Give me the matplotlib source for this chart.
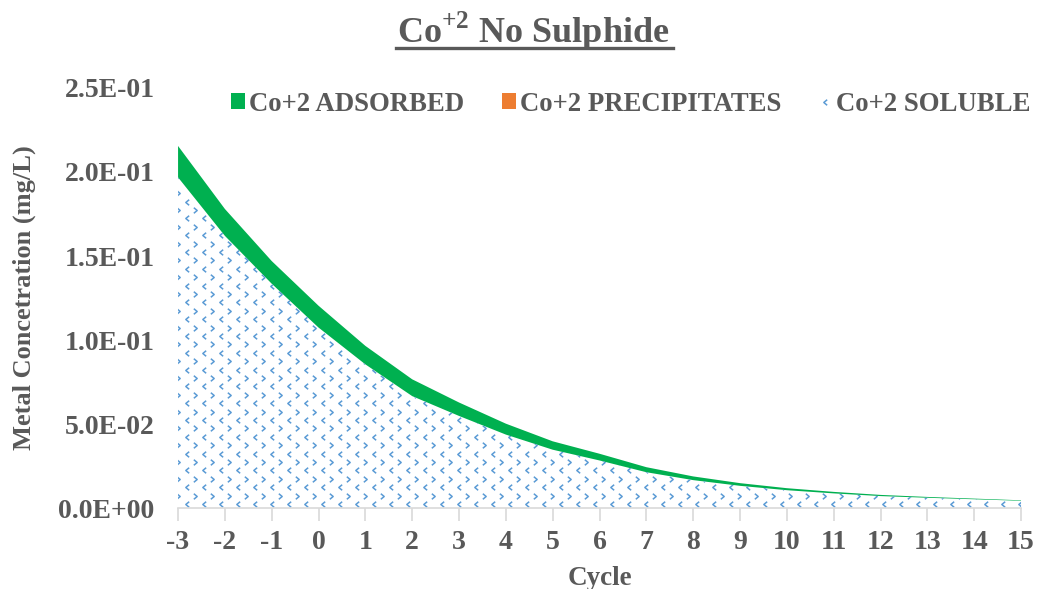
import matplotlib.pyplot as plt
from matplotlib.lines import Line2D
from matplotlib.patches import Patch
from matplotlib.path import Path
from matplotlib.ticker import FuncFormatter
import numpy as np

plt.rcParams['font.family'] = ['Liberation Serif', 'DejaVu Serif']
plt.rcParams['axes.unicode_minus'] = False
plt.rcParams['mathtext.fontset'] = 'custom'
plt.rcParams['mathtext.bf'] = 'Liberation Serif:bold'
plt.rcParams['mathtext.rm'] = 'Liberation Serif:bold'

cycles = list(range(-3, 16))
# total concentration (top of the stack) and soluble part, mg/L
total = [0.2155, 0.178, 0.147, 0.1204, 0.0965, 0.0766, 0.0628, 0.0502, 0.0397,
         0.0323, 0.0243, 0.0188, 0.0148, 0.0118, 0.0096, 0.0078, 0.0066, 0.0056, 0.0046]
soluble = [0.1968, 0.162, 0.1335, 0.1074, 0.0855, 0.0666, 0.0548, 0.0437, 0.0347,
           0.0283, 0.0213, 0.0166, 0.0132, 0.0106, 0.0087, 0.0071, 0.0061, 0.0052, 0.0043]
precipitates = [0.0] * len(cycles)
adsorbed = [t - s for t, s in zip(total, soluble)]

grey = '#595959'
green = '#00B050'
orange = '#ED7D31'
blue = '#5B9BD5'

# little chevrons used as the fill texture of the soluble area
chev_left = Path([(0.6, 1.0), (-0.6, 0.0), (0.6, -1.0)])
chev_right = Path([(-0.6, 1.0), (0.6, 0.0), (-0.6, -1.0)])

W, H = 10.37, 5.89
fig = plt.figure(figsize=(W, H), dpi=100)
ax_rect = [0.1717, 0.1375, 0.8129, 0.7131]
ax = fig.add_axes(ax_rect)

x = np.array(cycles)
sol = np.array(soluble)
prec = sol + np.array(precipitates)
top = prec + np.array(adsorbed)

sol_area = ax.fill_between(x, 0, sol, facecolor='white', linewidth=0)
ax.fill_between(x, sol, prec, facecolor=orange, linewidth=0)
ax.fill_between(x, prec, top, facecolor=green, linewidth=0)

ax.set_xlim(-3, 15)
ax.set_ylim(0, 0.25)

# staggered rows of chevrons, clipped to the soluble area
px_x = W * 100 * ax_rect[2] / 18.0
px_y = H * 100 * ax_rect[3] / 0.25
step_x = 17 / px_x
step_y = 8.4 / px_y
clip = sol_area.get_paths()[0]
k = 0
yy = 4 / px_y
while yy < 0.25:
    off = step_x / 2 if k % 2 == 0 else 0
    xs = np.arange(-3 + off, 15.01, step_x)
    mk = chev_left if k % 2 == 0 else chev_right
    pts, = ax.plot(xs, np.full_like(xs, yy), linestyle='none', marker=mk,
                   markersize=4, markeredgewidth=1.1, markerfacecolor='none',
                   markeredgecolor=blue)
    pts.set_clip_path(clip, ax.transData)
    yy += step_y
    k += 1

ax.set_xticks(cycles)
ax.set_yticks(np.arange(0, 0.2501, 0.05))
ax.yaxis.set_major_formatter(FuncFormatter(lambda v, p: '%.1E' % v))

for side in ['top', 'right', 'left']:
    ax.spines[side].set_visible(False)
ax.spines['bottom'].set_color('#D9D9D9')
ax.spines['bottom'].set_linewidth(1.2)
ax.tick_params(axis='x', colors='#D9D9D9', length=9, width=1.2, pad=7,
               labelcolor=grey, labelsize=20)
ax.tick_params(axis='y', length=0, pad=17, labelcolor=grey, labelsize=20)
for lbl in ax.get_xticklabels() + ax.get_yticklabels():
    lbl.set_fontweight('bold')

ax.set_xlabel('Cycle', fontsize=19.5, fontweight='bold', color=grey, labelpad=7.5)
ax.set_ylabel('Metal Concetration (mg/L)', fontsize=19, fontweight='bold', color=grey, labelpad=16)

fig.text(0.5145, 0.928, r'Co$^{\mathbf{+2}}$ No Sulphide', ha='center', va='baseline',
         fontsize=26, fontweight='bold', color=grey)
# underline below the title
fig.add_artist(Line2D([0.3819, 0.649], [0.9185, 0.9185], color=grey, lw=2.4,
                      transform=fig.transFigure))

handles = [Patch(facecolor=green, edgecolor='none'),
           Patch(facecolor=orange, edgecolor='none'),
           Line2D([], [], linestyle='none', marker=chev_left, markersize=4,
                  markeredgewidth=1.1, markerfacecolor='none', markeredgecolor=blue)]
labels = ['Co+2 ADSORBED', 'Co+2 PRECIPITATES', 'Co+2 SOLUBLE']
leg = fig.legend(handles, labels, loc='center', bbox_to_anchor=(0.6085, 0.8234), ncol=3,
                 frameon=False, fontsize=19.3, handlelength=0.52, handleheight=0.5,
                 handletextpad=0.15, columnspacing=1.4, borderpad=0, borderaxespad=0)
for t in leg.get_texts():
    t.set_color(grey)
    t.set_fontweight('bold')

fig.savefig('out.png', dpi=100)
